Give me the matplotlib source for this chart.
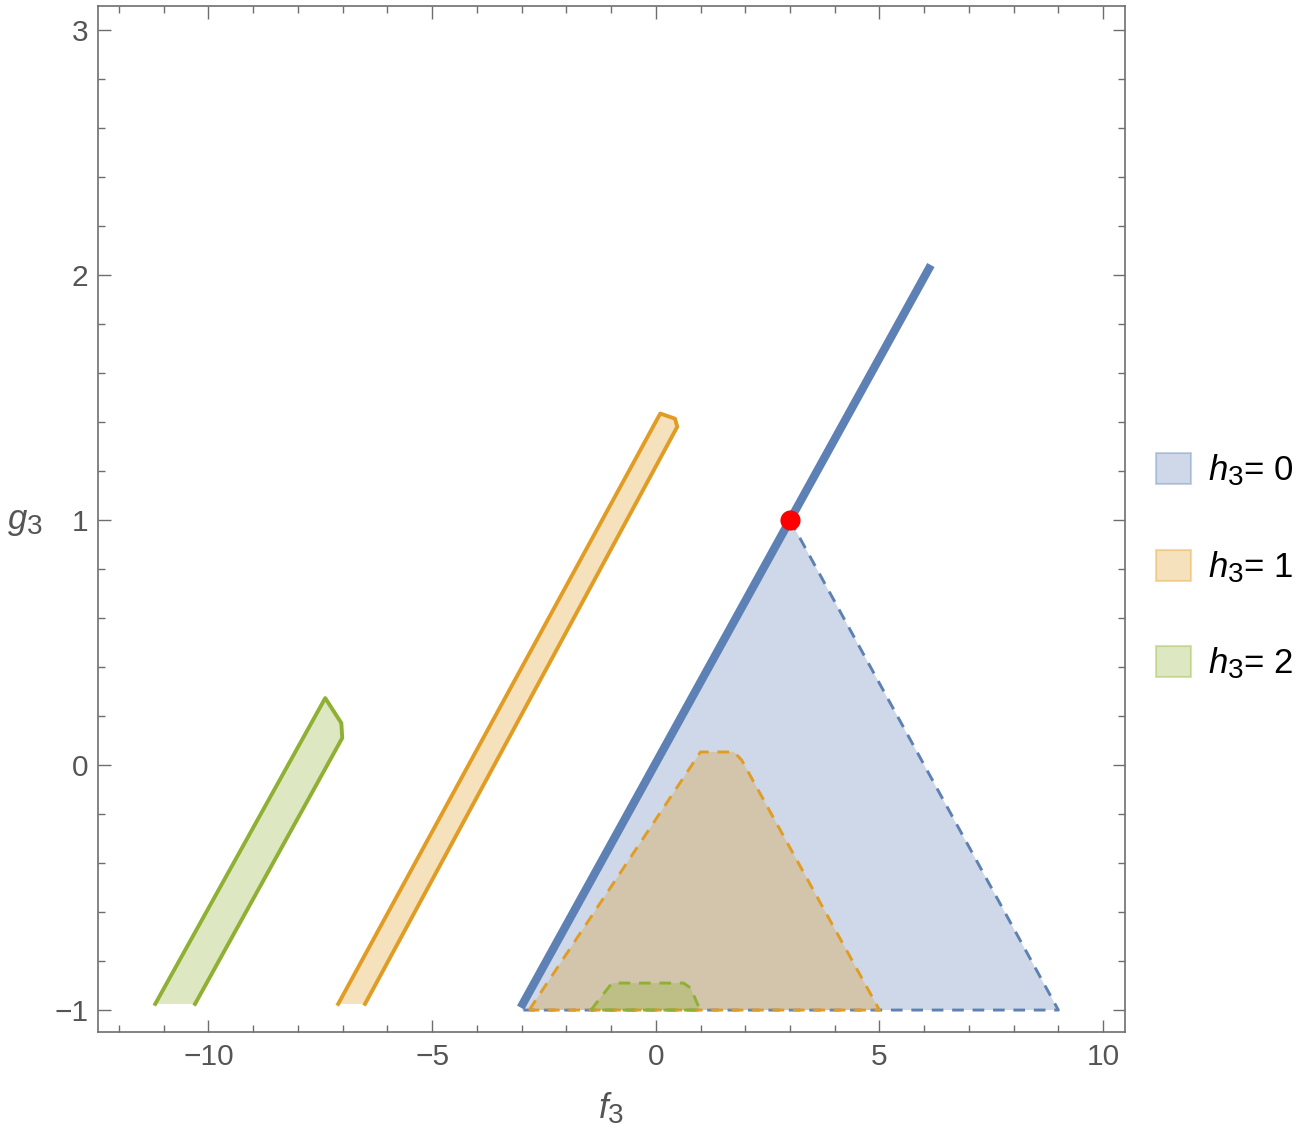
import matplotlib
matplotlib.use("Agg")
import matplotlib.pyplot as plt
from matplotlib.patches import Polygon, Patch
from matplotlib.colors import to_rgba
from matplotlib.ticker import MultipleLocator
try:
    import matplotlib._mathtext as _mt
    _mt.SHRINK_FACTOR = 0.8
except Exception:
    pass

plt.rcParams['font.family'] = ['Liberation Sans', 'DejaVu Sans']
plt.rcParams['mathtext.fontset'] = 'custom'
plt.rcParams['mathtext.rm'] = 'Liberation Sans'
plt.rcParams['mathtext.it'] = 'Liberation Sans:italic'

# ---- data ----
blue_region_f = [-3.0, 3.0, 9.0]
blue_region_g = [-1.0, 1.0, -1.0]
blue_line_f = [-3.02, 6.15]
blue_line_g = [-0.99, 2.04]

orange_strip_f = [-7.10, 0.10, 0.43, 0.48, -6.50]
orange_strip_g = [-0.975, 1.434, 1.413, 1.38, -0.975]
orange_trap_f = [-2.83, 1.0, 1.75, 1.92, 5.0]
orange_trap_g = [-1.0, 0.053, 0.053, 0.02, -1.0]

green_strip_f = [-11.19, -7.39, -7.03, -7.01, -10.30]
green_strip_g = [-0.975, 0.273, 0.171, 0.11, -0.975]
green_trap_f = [-1.45, -0.98, 0.62, 0.78, 0.99]
green_trap_g = [-1.0, -0.89, -0.89, -0.91, -1.0]

point_f = [3.0]
point_g = [1.0]

legend_labels = [r"$h_\mathrm{3}$= 0", r"$h_\mathrm{3}$= 1", r"$h_\mathrm{3}$= 2"]

BLUE = '#5E81B5'
ORANGE = '#E19C24'
GREEN = '#8FB032'
FRAME = '#6e6e6e'
TXT = '#555555'

W, H = 1309, 1142
fig = plt.figure(figsize=(W / 100, H / 100), dpi=100)
ax = fig.add_axes([98 / W, 1 - 1032 / H, (1125 - 98) / W, (1032 - 6) / H])

dash = (0, (4.0, 3.0))

def region(fs, gs, color, z):
    pts = list(zip(fs, gs))
    ax.add_patch(Polygon(pts, closed=True, facecolor=to_rgba(color, 0.3),
                         edgecolor='none', zorder=z))

# blue h3=0
region(blue_region_f, blue_region_g, BLUE, 1)
ax.plot([blue_region_f[1], blue_region_f[2], blue_region_f[0]],
        [blue_region_g[1], blue_region_g[2], blue_region_g[0]],
        color=BLUE, lw=2.1, ls=dash, zorder=2)
ax.plot(blue_line_f, blue_line_g, color=BLUE, lw=6.0, solid_capstyle='butt', zorder=2)

# orange h3=1
region(orange_strip_f, orange_strip_g, ORANGE, 3)
ax.plot(orange_strip_f, orange_strip_g, color=ORANGE, lw=2.8, zorder=4,
        solid_joinstyle='round')
region(orange_trap_f, orange_trap_g, ORANGE, 3)
ax.plot(orange_trap_f + [orange_trap_f[0]], orange_trap_g + [orange_trap_g[0]],
        color=ORANGE, lw=2.1, ls=dash, zorder=4)

# green h3=2
region(green_strip_f, green_strip_g, GREEN, 5)
ax.plot(green_strip_f, green_strip_g, color=GREEN, lw=2.8, zorder=6,
        solid_joinstyle='round')
region(green_trap_f, green_trap_g, GREEN, 5)
ax.plot(green_trap_f + [green_trap_f[0]], green_trap_g + [green_trap_g[0]],
        color=GREEN, lw=2.1, ls=dash, zorder=6)

ax.plot(point_f, point_g, 'o', color='#ff0000', ms=14.5, zorder=8, mec='none')

ax.set_xlim(-12.47, 10.49)
ax.set_ylim(-1.0896, 3.097)

ax.xaxis.set_minor_locator(MultipleLocator(1))
ax.yaxis.set_minor_locator(MultipleLocator(0.2))
ax.set_xticks([-10, -5, 0, 5, 10])
ax.set_xticklabels(['\u221210', '\u22125', '0', '5', '10'])
ax.set_yticks([-1, 0, 1, 2, 3])
ax.set_yticklabels(['\u22121', '0', '1', '2', '3'])
ax.tick_params(which='both', direction='in', top=True, right=True, color=FRAME,
               width=1.0, labelcolor=TXT, labelsize=21.5)
ax.tick_params(which='major', length=9)
ax.tick_params(which='minor', length=5)
ax.tick_params(axis='x', which='major', pad=8)
ax.tick_params(axis='y', which='major', pad=7)
for s in ax.spines.values():
    s.set_color(FRAME)
    s.set_linewidth(1.2)

fig.text(611 / W, 1 - 1108 / H, r"$f_\mathrm{3}$", color=TXT, fontsize=25,
         ha='center', va='center')
fig.text(25 / W, 1 - 522 / H, r"$g_\mathrm{3}$", color=TXT, fontsize=25,
         ha='center', va='center')

handles = [Patch(facecolor=to_rgba(c, 0.3), edgecolor=to_rgba(c, 0.35), lw=1.5)
           for c in (BLUE, ORANGE, GREEN)]
fig.legend(handles, legend_labels, loc='center left',
           bbox_to_anchor=(1156 / W, 1 - 567 / H), frameon=False, fontsize=25,
           handlelength=1.0, handleheight=1.0, handletextpad=0.5,
           labelspacing=1.75, borderpad=0, borderaxespad=0)

fig.savefig('out.png', dpi=100)
